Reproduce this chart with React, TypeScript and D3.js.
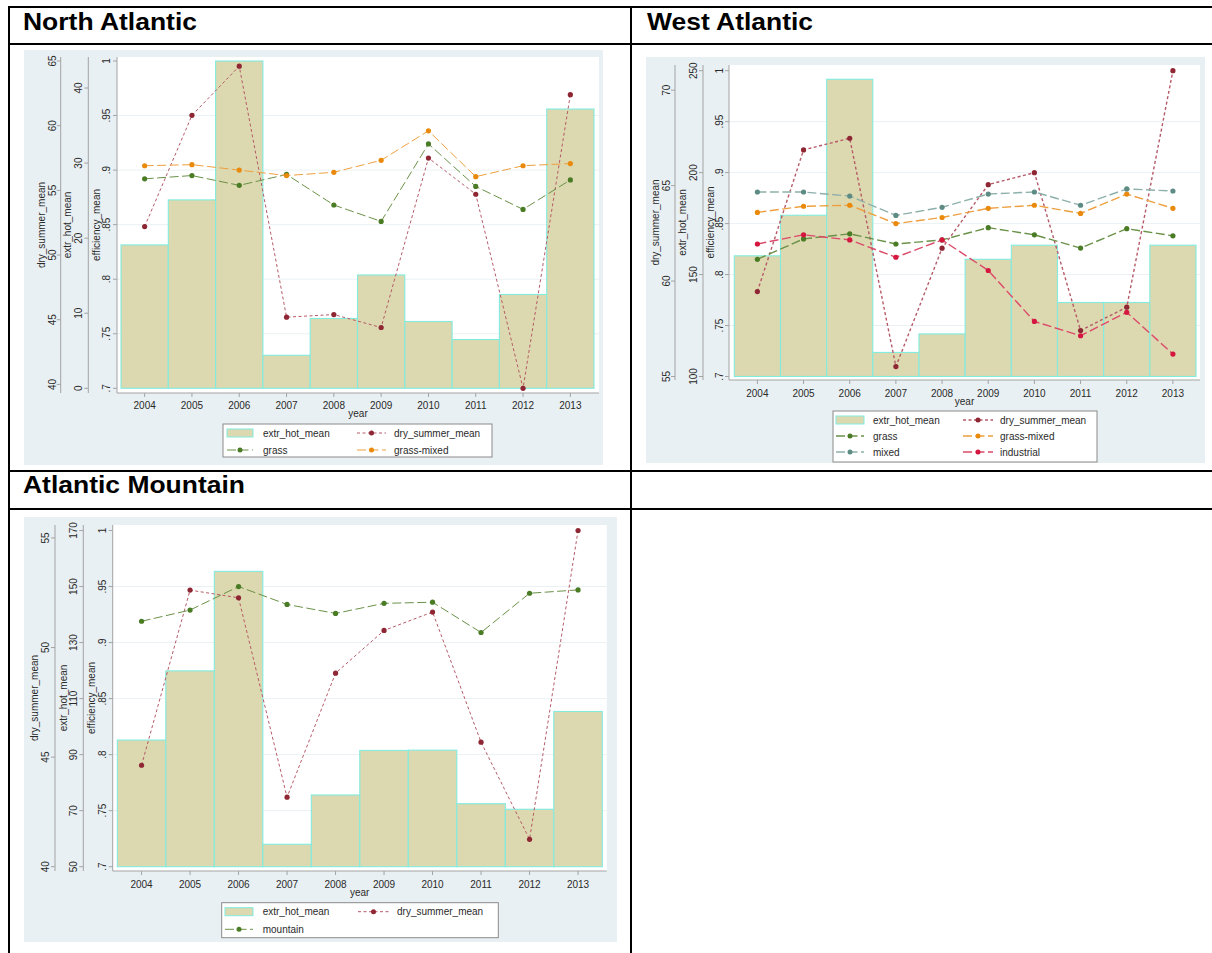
import * as d3 from 'd3'

const YEARS = [2004, 2005, 2006, 2007, 2008, 2009, 2010, 2011, 2012, 2013]
const EFF_TICKS = [0.7, 0.75, 0.8, 0.85, 0.9, 0.95, 1]

// North Atlantic
const NA_EXTR_HOT = [19.1, 25.1, 43.6, 4.4, 9.3, 15.1, 8.9, 6.5, 12.5, 37.2]
const NA_DRY_SUMMER = [52.2, 60.8, 64.6, 45.2, 45.4, 44.4, 57.5, 54.7, 39.7, 62.4]
const NA_GRASS = [0.892, 0.895, 0.886, 0.896, 0.868, 0.853, 0.924, 0.885, 0.864, 0.891]
const NA_GRASS_MIXED = [0.904, 0.905, 0.9, 0.895, 0.898, 0.909, 0.936, 0.894, 0.904, 0.906]
const NA_DRY_TICKS = [40, 45, 50, 55, 60, 65]
const NA_HOT_TICKS = [0, 10, 20, 30, 40]

// West Atlantic
const WA_EXTR_HOT = [159.2, 179.1, 245.8, 111.8, 120.9, 157.5, 164.4, 136.3, 136.3, 164.4]
const WA_DRY_SUMMER = [59.45, 66.87, 67.48, 55.52, 61.72, 65.05, 65.68, 57.41, 58.63, 71.02]
const WA_GRASS = [0.815, 0.835, 0.84, 0.83, 0.834, 0.846, 0.839, 0.826, 0.845, 0.838]
const WA_GRASS_MIXED = [0.861, 0.867, 0.868, 0.85, 0.856, 0.865, 0.868, 0.86, 0.879, 0.865]
const WA_MIXED = [0.881, 0.881, 0.877, 0.858, 0.866, 0.879, 0.881, 0.868, 0.884, 0.882]
const WA_INDUSTRIAL = [0.83, 0.839, 0.834, 0.817, 0.834, 0.804, 0.754, 0.74, 0.763, 0.722]
const WA_DRY_TICKS = [55, 60, 65, 70]
const WA_HOT_TICKS = [100, 150, 200, 250]

// Atlantic Mountain
const AM_EXTR_HOT = [95.2, 119.9, 155.4, 58.0, 75.6, 91.5, 91.6, 72.5, 70.5, 105.4]
const AM_DRY_SUMMER = [44.63, 52.62, 52.27, 43.17, 48.83, 50.78, 51.62, 45.68, 41.25, 55.34]
const AM_MOUNTAIN = [0.919, 0.929, 0.95, 0.934, 0.926, 0.935, 0.936, 0.909, 0.944, 0.947]
const AM_DRY_TICKS = [40, 45, 50, 55]
const AM_HOT_TICKS = [50, 70, 90, 110, 130, 150, 170]

const FONT = 'Liberation Sans, Arial, sans-serif'
const BG = '#e9f0f3'
const AXIS = '#a3a3a3'
const TXT = '#2a2a2a'
const BAR_FILL = '#dcd8af'
const BAR_STROKE = '#82ecdf'

const STYLE: Record<string, { marker: string; line: string; dash: string }> = {
  dry_summer_mean: { marker: '#8e2633', line: '#b65a68', dash: '3,2.5' },
  grass: { marker: '#4a7b25', line: '#6a9148', dash: '9,3.5' },
  'grass-mixed': { marker: '#e98a0c', line: '#eea040', dash: '9,3.5' },
  mixed: { marker: '#5e8c84', line: '#8db0aa', dash: '9,3.5' },
  industrial: { marker: '#d5173f', line: '#dc4a6a', dash: '9,3.5' },
  mountain: { marker: '#4a7b25', line: '#6a9148', dash: '9,3.5' },
}

interface PanelCfg {
  bg: [number, number, number, number]
  plot: { left: number; right: number; top: number; bottom: number }
  yRange: [number, number]
  barRange: [number, number]
  hot: number[]
  dry: number[]
  eff: { name: string; values: number[] }[]
  dryTicks: number[]
  hotTicks: number[]
  axisX: { dry: [number, number, number]; hot: [number, number, number]; eff: [number, number, number] }
  tickLabelY: number
  yearY: number
  lineW: number
  legend: { x: number; y: number; w: number; h: number; rows: number[]; sym1: [number, number]; sym2: [number, number]; t1: number; t2: number }
}

const effFmt = (d: number) => (d === 1 ? '1' : String(d).replace(/^0/, ''))

function YAxis({ x, labelX, titleX, ticks, scale, fmt, title, top, bottom }: any) {
  const mid = (top + bottom) / 2
  return (
    <g>
      <line x1={x} x2={x} y1={top} y2={bottom} stroke={AXIS} strokeWidth={1} />
      {ticks.map((t: number) => (
        <g key={t}>
          <line x1={x - 4} x2={x} y1={scale(t)} y2={scale(t)} stroke={AXIS} />
          <text transform={`translate(${labelX},${scale(t)}) rotate(-90)`} dy="0.35em" textAnchor="middle" fontSize={10} fill={TXT}>
            {fmt(t)}
          </text>
        </g>
      ))}
      <text transform={`translate(${titleX},${mid}) rotate(-90)`} dy="0.35em" textAnchor="middle" fontSize={10} fill={TXT}>
        {title}
      </text>
    </g>
  )
}

function LegendKey({ name, x0, x1, y, lineW }: any) {
  if (name === 'extr_hot_mean') {
    return <rect x={x0} y={y - 4} width={x1 - x0} height={8} fill={BAR_FILL} stroke={BAR_STROKE} strokeWidth={1} />
  }
  const s = STYLE[name]
  return (
    <g>
      <line x1={x0} x2={x1} y1={y} y2={y} stroke={s.line} strokeWidth={lineW} strokeDasharray={s.dash} />
      <circle cx={(x0 + x1) / 2} cy={y} r={2.5} fill={s.marker} />
    </g>
  )
}

function Panel({ cfg }: { cfg: PanelCfg }) {
  const { plot } = cfg
  const x = d3.scaleLinear().domain([2003.5, 2013.5]).range(cfg.barRange)
  const bw = x(2004.5) - x(2003.5)
  const yDry = d3.scaleLinear().domain(d3.extent([...cfg.dry, ...cfg.dryTicks]) as [number, number]).range(cfg.yRange)
  const yHot = d3.scaleLinear().domain(d3.extent([...cfg.hot, ...cfg.hotTicks]) as [number, number]).range(cfg.yRange)
  const allEff = cfg.eff.flatMap((s) => s.values)
  const yEff = d3.scaleLinear().domain(d3.extent([...allEff, ...EFF_TICKS]) as [number, number]).range(cfg.yRange)

  const lineGen = (sc: d3.ScaleLinear<number, number>) =>
    d3.line<number>().x((_, i) => x(YEARS[i])).y((d) => sc(d))

  const series = [{ name: 'dry_summer_mean', values: cfg.dry, sc: yDry }, ...cfg.eff.map((s) => ({ ...s, sc: yEff }))]
  const legendItems = ['extr_hot_mean', 'dry_summer_mean', ...cfg.eff.map((s) => s.name)]
  const lg = cfg.legend

  return (
    <g fontFamily={FONT}>
      <rect x={cfg.bg[0]} y={cfg.bg[1]} width={cfg.bg[2]} height={cfg.bg[3]} fill={BG} />
      <rect x={plot.left} y={plot.top} width={plot.right - plot.left} height={plot.bottom - plot.top} fill="#fff" />
      {EFF_TICKS.slice(1, -1).map((t) => (
        <line key={t} x1={plot.left} x2={plot.right} y1={yEff(t)} y2={yEff(t)} stroke="#eaf1f4" strokeWidth={1} />
      ))}
      {cfg.hot.map((v, i) => (
        <rect key={i} x={x(YEARS[i] - 0.5)} y={yHot(v)} width={bw} height={cfg.yRange[0] - yHot(v)} fill={BAR_FILL} stroke={BAR_STROKE} strokeWidth={1.1} />
      ))}
      {series.map((s) => (
        <g key={s.name}>
          <path d={lineGen(s.sc)(s.values) ?? ''} fill="none" stroke={STYLE[s.name].line} strokeWidth={cfg.lineW} strokeDasharray={STYLE[s.name].dash} />
          {s.values.map((v, i) => (
            <circle key={i} cx={x(YEARS[i])} cy={s.sc(v)} r={2.6} fill={STYLE[s.name].marker} />
          ))}
        </g>
      ))}
      <YAxis x={cfg.axisX.dry[0]} labelX={cfg.axisX.dry[1]} titleX={cfg.axisX.dry[2]} ticks={cfg.dryTicks} scale={yDry} fmt={String} title="dry_summer_mean" top={plot.top} bottom={plot.bottom} />
      <YAxis x={cfg.axisX.hot[0]} labelX={cfg.axisX.hot[1]} titleX={cfg.axisX.hot[2]} ticks={cfg.hotTicks} scale={yHot} fmt={String} title="extr_hot_mean" top={plot.top} bottom={plot.bottom} />
      <YAxis x={cfg.axisX.eff[0]} labelX={cfg.axisX.eff[1]} titleX={cfg.axisX.eff[2]} ticks={EFF_TICKS} scale={yEff} fmt={effFmt} title="efficiency_mean" top={plot.top} bottom={plot.bottom} />
      <line x1={plot.left} x2={plot.right} y1={plot.bottom} y2={plot.bottom} stroke={AXIS} />
      {YEARS.map((yr) => (
        <g key={yr}>
          <line x1={x(yr)} x2={x(yr)} y1={plot.bottom} y2={plot.bottom + 4} stroke={AXIS} />
          <text x={x(yr)} y={cfg.tickLabelY} textAnchor="middle" fontSize={10} fill={TXT}>{yr}</text>
        </g>
      ))}
      <text x={(plot.left + plot.right) / 2} y={cfg.yearY} textAnchor="middle" fontSize={10} fill={TXT}>year</text>
      <rect x={lg.x} y={lg.y} width={lg.w} height={lg.h} fill="#fff" stroke="#8a8a8a" strokeWidth={1} />
      {legendItems.map((name, i) => {
        const row = Math.floor(i / 2)
        const col = i % 2
        const sym = col === 0 ? lg.sym1 : lg.sym2
        const ty = lg.rows[row]
        return (
          <g key={name}>
            <LegendKey name={name} x0={sym[0]} x1={sym[1]} y={ty} lineW={cfg.lineW} />
            <text x={col === 0 ? lg.t1 : lg.t2} y={ty + 3.5} fontSize={10} fill={TXT}>{name}</text>
          </g>
        )
      })}
    </g>
  )
}

const NA_CFG: PanelCfg = {
  bg: [24, 50, 579, 415],
  plot: { left: 117, right: 599, top: 57, bottom: 393 },
  yRange: [388.3, 61],
  barRange: [121, 594],
  hot: NA_EXTR_HOT,
  dry: NA_DRY_SUMMER,
  eff: [{ name: 'grass', values: NA_GRASS }, { name: 'grass-mixed', values: NA_GRASS_MIXED }],
  dryTicks: NA_DRY_TICKS,
  hotTicks: NA_HOT_TICKS,
  axisX: { dry: [60.7, 52, 41], hot: [88.3, 78, 67.7], eff: [117, 106, 96] },
  tickLabelY: 409,
  yearY: 417,
  lineW: 1,
  legend: { x: 223, y: 424, w: 269, h: 33, rows: [433, 450], sym1: [227, 253], sym2: [357, 386], t1: 263, t2: 394 },
}

const WA_CFG: PanelCfg = {
  bg: [646, 57, 559, 406],
  plot: { left: 729, right: 1200, top: 65, bottom: 380 },
  yRange: [376.5, 70.7],
  barRange: [734.3, 1196],
  hot: WA_EXTR_HOT,
  dry: WA_DRY_SUMMER,
  eff: [
    { name: 'grass', values: WA_GRASS },
    { name: 'grass-mixed', values: WA_GRASS_MIXED },
    { name: 'mixed', values: WA_MIXED },
    { name: 'industrial', values: WA_INDUSTRIAL },
  ],
  dryTicks: WA_DRY_TICKS,
  hotTicks: WA_HOT_TICKS,
  axisX: { dry: [675, 666, 655], hot: [703, 693, 682], eff: [729, 719, 710] },
  tickLabelY: 397,
  yearY: 405,
  lineW: 1.4,
  legend: { x: 833, y: 411, w: 264, h: 51, rows: [420, 436, 452], sym1: [836, 864], sym2: [963, 993], t1: 873, t2: 1000 },
}

const AM_CFG: PanelCfg = {
  bg: [24, 517, 593, 425],
  plot: { left: 112.7, right: 606.7, top: 525, bottom: 871 },
  yRange: [866.7, 530.5],
  barRange: [117.3, 602.3],
  hot: AM_EXTR_HOT,
  dry: AM_DRY_SUMMER,
  eff: [{ name: 'mountain', values: AM_MOUNTAIN }],
  dryTicks: AM_DRY_TICKS,
  hotTicks: AM_HOT_TICKS,
  axisX: { dry: [55, 45, 34], hot: [83.3, 73.3, 63.3], eff: [112.7, 102.7, 91.7] },
  tickLabelY: 888,
  yearY: 896,
  lineW: 1,
  legend: { x: 221.7, y: 902.7, w: 276.6, h: 35, rows: [911.7, 929.3], sym1: [225, 253], sym2: [358, 389], t1: 262.7, t2: 397 },
}

export default function App() {
  return (
    <svg width={1212} height={953} style={{ position: 'absolute', left: 0, top: 0, background: '#fff' }}>
      {/* table grid */}
      <g stroke="#000" strokeWidth={2}>
        <line x1={8} x2={1212} y1={7} y2={7} />
        <line x1={8} x2={1212} y1={44} y2={44} />
        <line x1={8} x2={1212} y1={471} y2={471} />
        <line x1={8} x2={1212} y1={509} y2={509} />
        <line x1={9} x2={9} y1={6} y2={953} />
        <line x1={631} x2={631} y1={6} y2={953} />
      </g>
      <g fontFamily={FONT} fontWeight="bold" fontSize={24} fill="#000">
        <text x={23} y={30} textLength={174} lengthAdjust="spacingAndGlyphs">North Atlantic</text>
        <text x={647} y={30} textLength={166} lengthAdjust="spacingAndGlyphs">West Atlantic</text>
        <text x={23} y={493} textLength={222} lengthAdjust="spacingAndGlyphs">Atlantic Mountain</text>
      </g>
      <Panel cfg={NA_CFG} />
      <Panel cfg={WA_CFG} />
      <Panel cfg={AM_CFG} />
    </svg>
  )
}
